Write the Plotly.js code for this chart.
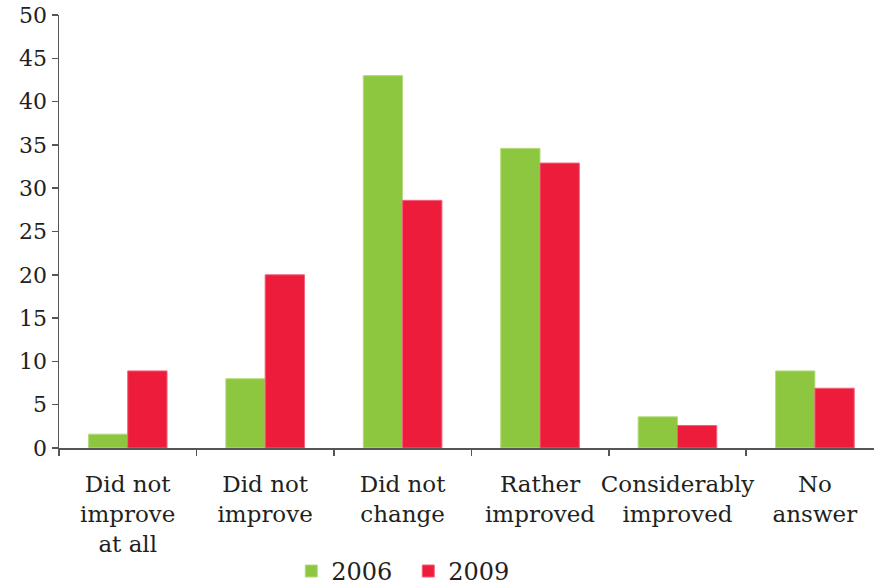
<!DOCTYPE html>
<html>
<head>
<meta charset="utf-8">
<script src="https://cdn.plot.ly/plotly-3.0.1.min.js"></script>
<style>html,body{margin:0;padding:0;background:#fff;}#chart{width:874px;height:585px;}</style>
</head>
<body>
<div id="chart"></div>
<script>
const categories = ["Did not<br>improve<br>at all", "Did not<br>improve", "Did not<br>change", "Rather<br>improved", "Considerably<br>improved", "No<br>answer"];
const values2006 = [1.6, 8.0, 43.0, 34.6, 3.6, 8.9];
const values2009 = [8.9, 20.0, 28.6, 32.9, 2.6, 6.9];
const yTicks = [0, 5, 10, 15, 20, 25, 30, 35, 40, 45, 50];

const fontFam = "DejaVu Serif";
const traces = [
  {type: "bar", name: "2006", x: categories, y: values2006, marker: {color: "#8DC63F", line: {color: "#B4DC7E", width: 1}}},
  {type: "bar", name: "2009", x: categories, y: values2009, marker: {color: "#ED1C3A", line: {color: "#F2607A", width: 1}}}
];
const layout = {
  width: 874, height: 585,
  margin: {l: 59, r: 0, t: 15, b: 136.5, autoexpand: false},
  paper_bgcolor: "#fff", plot_bgcolor: "#fff",
  font: {family: fontFam, size: 22, color: "#231F20"},
  barmode: "group", bargap: 0.428, bargroupgap: 0,
  showlegend: true,
  legend: {orientation: "h", x: 0.285, xanchor: "left", y: -0.285, yanchor: "middle", font: {size: 24, family: fontFam}, itemwidth: 30, entrywidth: 72, tracegroupgap: 0},
  xaxis: {
    type: "category", range: [-0.5, 5.43], showline: true, linecolor: "#555", linewidth: 1.5,
    ticks: "outside", tickson: "boundaries", ticklen: 6, tickcolor: "#555", tickwidth: 1.5, tickangle: 0,
    ticklabelstandoff: 15,
    showgrid: false, zeroline: false, tickfont: {size: 23, family: fontFam}, fixedrange: true, automargin: false
  },
  yaxis: {
    range: [0, 50], tickvals: yTicks, ticktext: yTicks.map(String), showline: true, linecolor: "#555", linewidth: 1.5,
    ticks: "outside", ticklen: 6, tickcolor: "#555", tickwidth: 1.5, automargin: false,
    showgrid: false, zeroline: false, tickfont: {size: 22, family: fontFam}
  }
};
Plotly.newPlot("chart", traces, layout, {displayModeBar: false, staticPlot: true});
</script>
</body>
</html>
